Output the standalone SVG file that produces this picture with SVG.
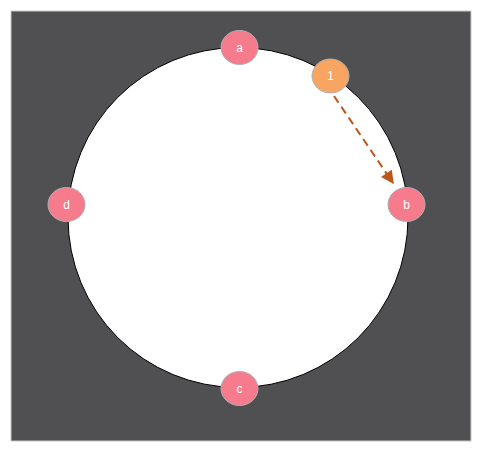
<svg xmlns="http://www.w3.org/2000/svg" width="482" height="453" viewBox="0 0 482 453">
<style>
.node{fill:#f67b8d;stroke:#b0b0b0;stroke-width:1}
.hl{fill:#f8a562}
.lbl{fill:#ffffff;font-family:"Liberation Sans",Arial,sans-serif;font-size:12px;text-anchor:middle;dominant-baseline:central}
.edge{stroke:#bd561a;stroke-width:2;stroke-dasharray:8,5;fill:none}
</style>
<defs>
<marker id="ah" viewBox="0 0 10 10" refX="9" refY="5" markerWidth="7.5" markerHeight="6.5" orient="auto" markerUnits="strokeWidth">
<path d="M0,0 L10,5 L0,10 z" fill="#bd561a"/>
</marker>
</defs>
<rect x="11" y="11" width="460" height="430" fill="#505052" stroke="#c8c8c8" stroke-width="1"/>
<circle cx="238" cy="217.5" r="170" fill="#ffffff" stroke="#000000" stroke-width="1"/>
<g id="connectors">
<path class="edge" d="M334,96 L393,183" marker-end="url(#ah)"/>
</g>
<g id="node-a"><ellipse class="node" cx="239.5" cy="47.5" rx="18.5" ry="17"/><text class="lbl" x="239.5" y="47.5">a</text></g>
<g id="node-b"><ellipse class="node" cx="406.5" cy="204.5" rx="18.5" ry="17"/><text class="lbl" x="406.5" y="204.5">b</text></g>
<g id="node-c"><ellipse class="node" cx="239.5" cy="388.5" rx="18.5" ry="17"/><text class="lbl" x="239.5" y="388.5">c</text></g>
<g id="node-d"><ellipse class="node" cx="66.5" cy="204.5" rx="18.5" ry="17"/><text class="lbl" x="66.5" y="204.5">d</text></g>
<g id="node-1"><ellipse class="node hl" cx="330.5" cy="76" rx="18.5" ry="17"/><text class="lbl" x="330.5" y="76">1</text></g>
</svg>
